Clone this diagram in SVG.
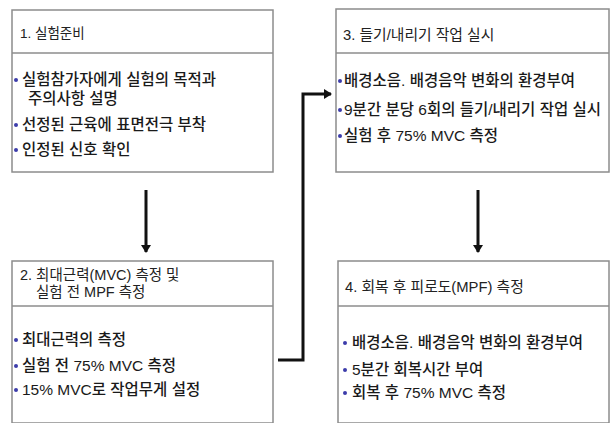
<svg xmlns="http://www.w3.org/2000/svg" width="611" height="423" viewBox="0 0 611 423">
<defs>
<style>
.box{fill:#fff;stroke:#8c8c8c;stroke-width:1.5}
.div{stroke:#8c8c8c;stroke-width:1.5}
.t{font-family:"Liberation Sans","Noto Sans CJK KR",sans-serif;font-size:14.8px;fill:#222}
.b{font-family:"Liberation Sans","Noto Sans CJK KR",sans-serif;font-size:15.5px;fill:#1a1a1a;font-weight:500}
.dot{fill:#3c3caa}
.c{fill:none;stroke:#111;stroke-width:3}
</style>
<marker id="ah" markerWidth="8" markerHeight="10" refX="7" refY="5" orient="auto" markerUnits="userSpaceOnUse">
<path d="M0,0 L8,5 L0,10 Z" fill="#111"/>
</marker>
</defs>
<rect width="611" height="423" fill="#fff"/>
<g id="node1">
<rect class="box" x="12" y="10" width="261" height="162"/>
<line class="div" x1="12" y1="53" x2="273" y2="53"/>
<text class="t" x="20" y="38" style="font-size:13.5px">1. 실험준비</text>
<circle class="dot" cx="16" cy="80" r="2"/>
<text class="b" x="22" y="85">실험참가자에게 실험의 목적과</text>
<text class="b" x="28" y="104">주의사항 설명</text>
<circle class="dot" cx="16" cy="125" r="2"/>
<text class="b" x="22" y="130">선정된 근육에 표면전극 부착</text>
<circle class="dot" cx="16" cy="150" r="2"/>
<text class="b" x="22" y="155">인정된 신호 확인</text>
</g>
<g id="node2">
<rect class="box" x="12" y="261" width="261" height="162"/>
<line class="div" x1="12" y1="306" x2="273" y2="306"/>
<text class="t" x="20" y="280" style="font-size:14.5px">2. 최대근력(MVC) 측정 및</text>
<text class="t" x="36" y="297" style="font-size:14.5px">실험 전 MPF 측정</text>
<circle class="dot" cx="16" cy="340" r="2"/>
<text class="b" x="22" y="345">최대근력의 측정</text>
<circle class="dot" cx="16" cy="366" r="2"/>
<text class="b" x="22" y="371">실험 전 75% MVC 측정</text>
<circle class="dot" cx="16" cy="390" r="2"/>
<text class="b" x="22" y="395">15% MVC로 작업무게 설정</text>
</g>
<g id="node3">
<rect class="box" x="336" y="9" width="273" height="163"/>
<line class="div" x1="336" y1="53" x2="609" y2="53"/>
<text class="t" x="343" y="40">3. 들기/내리기 작업 실시</text>
<circle class="dot" cx="340" cy="81" r="2"/>
<text class="b" x="344" y="86">배경소음. 배경음악 변화의 환경부여</text>
<circle class="dot" cx="340" cy="110" r="2"/>
<text class="b" x="344" y="115">9분간 분당 6회의 들기/내리기 작업 실시</text>
<circle class="dot" cx="340" cy="136" r="2"/>
<text class="b" x="344" y="141">실험 후 75% MVC 측정</text>
</g>
<g id="node4">
<rect class="box" x="338" y="261" width="271" height="162"/>
<line class="div" x1="338" y1="306" x2="609" y2="306"/>
<text class="t" x="345" y="292">4. 회복 후 피로도(MPF) 측정</text>
<circle class="dot" cx="345" cy="343" r="2"/>
<text class="b" x="352" y="348">배경소음. 배경음악 변화의 환경부여</text>
<circle class="dot" cx="345" cy="370" r="2"/>
<text class="b" x="352" y="375">5분간 회복시간 부여</text>
<circle class="dot" cx="345" cy="393" r="2"/>
<text class="b" x="352" y="398">회복 후 75% MVC 측정</text>
</g>
<g id="connectors">
<line class="c" x1="146" y1="190" x2="146" y2="252" marker-end="url(#ah)"/>
<line class="c" x1="478" y1="190" x2="478" y2="252" marker-end="url(#ah)"/>
<polyline class="c" points="278,360 303,360 303,94 331,94" marker-end="url(#ah)"/>
</g>
</svg>
